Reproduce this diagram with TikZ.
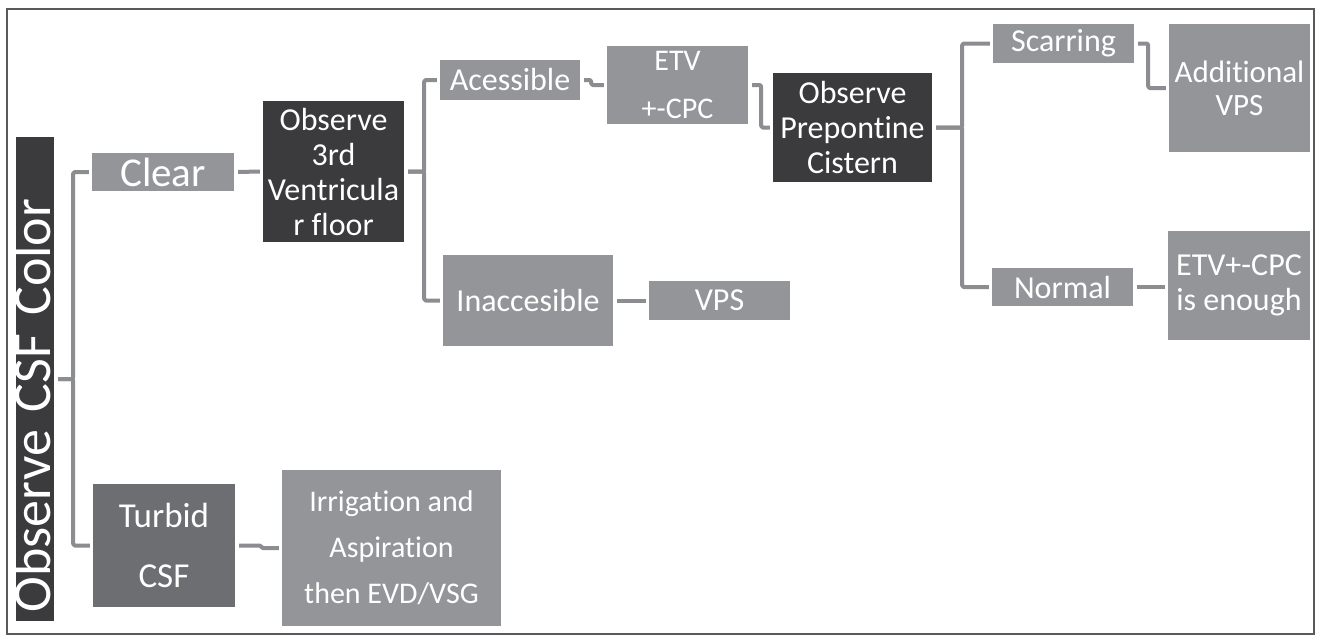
\documentclass[tikz,border=0pt]{standalone}
\usepackage{fontspec}
\setmainfont{Carlito}[Ligatures=NoCommon]
\definecolor{boxgray}{HTML}{939598}
\definecolor{boxdark}{HTML}{3B3A3C}
\definecolor{boxmid}{HTML}{6D6E71}
\definecolor{linkgray}{HTML}{8C8D90}
\definecolor{framegray}{HTML}{5A5A5C}
\tikzset{
box/.style 2 args={inner sep=0pt, minimum width=#1pt, minimum height=#2pt,
  text=white, align=center, font=\fontsize{32}{35}\selectfont},
light/.style={fill=boxgray},
dark/.style={fill=boxdark},
mid/.style={fill=boxmid},
link/.style={draw=linkgray, line width=4pt, line join=round, rounded corners=1.5pt,
  shorten <=4pt, shorten >=3pt},
}

\begin{document}
\begin{tikzpicture}[x=1pt, y=-1pt]
    \useasboundingbox[fill=white] (0,0) rectangle (1321,641);
    \draw[framegray, line width=1.5pt] (7,9) rectangle (1314,634);

    % first level
    \node[box={484}{38}, dark, rotate=90, text width=466pt, align=left,
          text height=34pt, text depth=4pt, font=\fontsize{54}{60}\selectfont]
          (csf) at (35,379) {Observe CSF Color};
    \node[box={142}{38}, light, font=\fontsize{41}{45}\selectfont] (clear) at (163,172) {Clear};
    \node[box={142}{123}, mid, font=\fontsize{35}{60}\selectfont] (turbid) at (164,545.5) {Turbid\\CSF};
    \node[box={219}{156}, light, font=\fontsize{30}{46}\selectfont] (irrig) at (391.5,548)
          {Irrigation and\\Aspiration\\then EVD/VSG};

    % third ventricle
    \node[box={141}{141}, dark] (third) at (333.5,171.5) {Observe\\3rd\\Ventricula\\r floor};
    \node[box={140}{40}, light] (acc) at (510,80) {Acessible};
    \node[box={170}{91}, light] (inacc) at (528,300.5) {Inaccesible};
    \node[box={141}{39}, light] (vps) at (719.5,300.5) {VPS};
    \node[box={141}{78}, light, font=\fontsize{30}{48}\selectfont] (etv) at (677.5,85) {ETV\\+-CPC};

    % prepontine cistern
    \node[box={159}{109}, dark] (prep) at (852.5,127.5) {Observe\\Prepontine\\Cistern};
    \node[box={141}{39}, light] (scar) at (1063.5,43.5) {Scarring};
    \node[box={141}{38}, light] (normal) at (1062.5,287) {Normal};
    \node[box={141}{128}, light, font=\fontsize{31}{33}\selectfont] (addl) at (1239.5,88) {Additional\\VPS};
    \node[box={142}{109}, light] (enough) at (1239,285.5) {ETV+-CPC\\is enough};

    \draw[link] (csf.south) -- ++(19,0) |- (clear.west);
    \draw[link] (csf.south) -- ++(19,0) |- (turbid.west);
    \draw[link] (clear.east) -- (third.west);
    \draw[link] (turbid.east) -- ++(26,0) |- (irrig.west);

    \draw[link] (third.east) -- ++(20,0) |- (acc.west);
    \draw[link] (third.east) -- ++(20,0) |- (inacc.west);
    \draw[link] (acc.east) -- ++(11,0) |- (etv.west);
    \draw[link] (inacc.east) -- (vps.west);
    \draw[link] (etv.east) -- ++(13,0) |- (prep.west);

    \draw[link] (prep.east) -- ++(30,0) |- (scar.west);
    \draw[link] (prep.east) -- ++(30,0) |- (normal.west);
    \draw[link] (scar.east) -- ++(14,0) |- (addl.west);
    \draw[link] (normal.east) -- (normal.east -| enough.west);
\end{tikzpicture}
\end{document}
